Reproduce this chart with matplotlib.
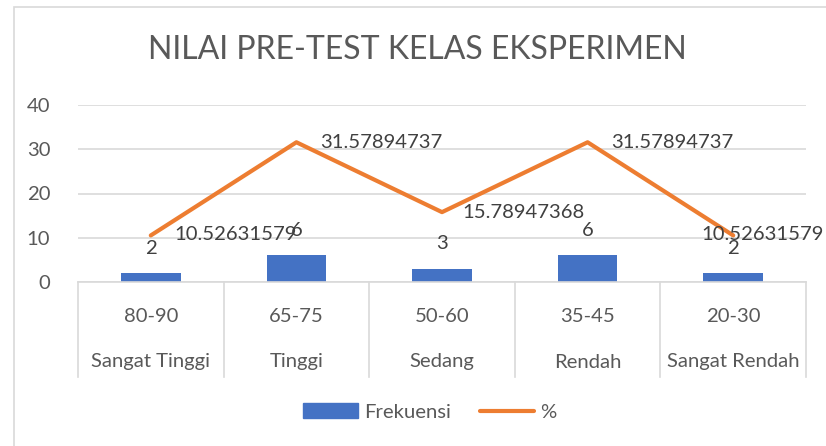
import matplotlib.pyplot as plt
from matplotlib.patches import Rectangle
from matplotlib.lines import Line2D
from matplotlib.transforms import blended_transform_factory

plt.rcParams['font.family'] = ['Lato', 'DejaVu Sans']

ranges = ['80-90', '65-75', '50-60', '35-45', '20-30']
levels = ['Sangat Tinggi', 'Tinggi', 'Sedang', 'Rendah', 'Sangat Rendah']
frekuensi = [2, 6, 3, 6, 2]
persen = [10.52631579, 31.57894737, 15.78947368, 31.57894737, 10.52631579]

blue = '#4472C4'
orange = '#ED7D31'
txt = '#595959'
grid = '#D9D9D9'
fs = 14.6

fig = plt.figure(figsize=(8.26, 4.46), dpi=100)
W, H = 826, 446

# chart frame (only left/top edges show in the reference)
fig.add_artist(Rectangle((14 / W, -0.05), 1.0, (H - 7) / H + 0.05, transform=fig.transFigure,
                         fill=False, edgecolor=grid, lw=1.2))

ax = fig.add_axes([78 / W, (H - 282) / H, 728 / W, 177 / H])
x = list(range(len(ranges)))

ax.bar(x, frekuensi, width=0.41, color=blue, zorder=2)
ax.plot(x, persen, color=orange, lw=3.0, solid_capstyle='round', zorder=3)

ax.set_xlim(-0.5, 4.5)
ax.set_ylim(0, 40)
ax.set_yticks([0, 10, 20, 30, 40])
ax.yaxis.grid(True, color=grid, lw=1.2, zorder=0)
ax.set_axisbelow(True)
ax.tick_params(axis='y', length=0, labelsize=fs, labelcolor=txt, pad=20)
ax.set_xticks([])
for s in ['left', 'right', 'top']:
    ax.spines[s].set_visible(False)
ax.spines['bottom'].set_color(grid)
ax.spines['bottom'].set_linewidth(1.2)

# data labels
for i, v in enumerate(frekuensi):
    ax.annotate(str(v), (i, v), xytext=(0, 18), textcoords='offset points',
                ha='center', va='center', fontsize=fs, color='#404040')
offsets = [(17, 1), (17, 0), (15, 0), (17, 0), (-23, 1)]
for i, v in enumerate(persen):
    ax.annotate(f'{v:.10g}', (i, v), xytext=offsets[i],
                textcoords='offset points', ha='left', va='center', fontsize=fs,
                color='#404040', annotation_clip=False)

# two-level category axis
tr = blended_transform_factory(ax.transData, ax.transAxes)
for b in [-0.5, 0.5, 1.5, 2.5, 3.5, 4.5]:
    ax.add_line(Line2D([b, b], [0, -95 / 177], transform=tr, color=grid, lw=1.2, clip_on=False))
for i in x:
    ax.text(i, -35 / 177, ranges[i], transform=tr, ha='center', va='center', fontsize=fs, color=txt)
    ax.text(i, -80 / 177, levels[i], transform=tr, ha='center', va='center', fontsize=fs, color=txt)

fig.text(417 / W, 1 - 50 / H, 'NILAI PRE-TEST KELAS EKSPERIMEN', ha='center', va='center',
         fontsize=23, color=txt)

handles = [Rectangle((0, 0), 1, 1, color=blue),
           Line2D([0], [0], color=orange, lw=3.0, solid_capstyle='round')]
fig.legend(handles, ['Frekuensi', '%'], loc='center', bbox_to_anchor=(430 / W, 1 - 412 / H),
           ncol=2, frameon=False, fontsize=fs, labelcolor=txt, handlelength=2.7,
           handletextpad=0.3, columnspacing=1.4)

fig.savefig('out.png', dpi=100)
